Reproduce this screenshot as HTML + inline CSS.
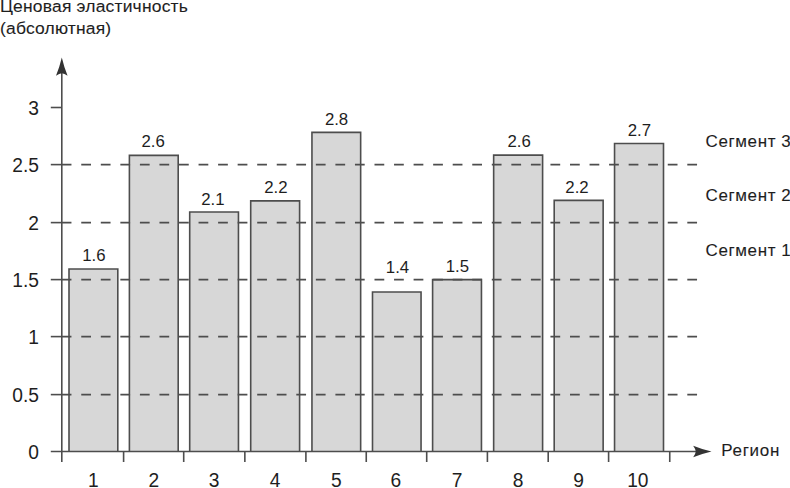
<!DOCTYPE html>
<html><head><meta charset="utf-8"><style>
html,body{margin:0;padding:0;background:#fff;width:790px;height:488px;overflow:hidden}
svg{display:block}
text{font-family:"Liberation Sans",sans-serif;fill:#1e1e1e}
</style></head><body>
<svg width="790" height="488" viewBox="0 0 790 488">
<path d="M69 451.5 V269 H117.8 V451.5" fill="#d7d7d7" stroke="#4d4d4d" stroke-width="1.6"/>
<path d="M129.4 451.5 V155.4 H178.2 V451.5" fill="#d7d7d7" stroke="#4d4d4d" stroke-width="1.6"/>
<path d="M189.7 451.5 V212 H238.45 V451.5" fill="#d7d7d7" stroke="#4d4d4d" stroke-width="1.6"/>
<path d="M250.7 451.5 V200.9 H299.6 V451.5" fill="#d7d7d7" stroke="#4d4d4d" stroke-width="1.6"/>
<path d="M311.95 451.5 V132.4 H360.65 V451.5" fill="#d7d7d7" stroke="#4d4d4d" stroke-width="1.6"/>
<path d="M372.5 451.5 V292 H421.05 V451.5" fill="#d7d7d7" stroke="#4d4d4d" stroke-width="1.6"/>
<path d="M432.6 451.5 V279.65 H481.45 V451.5" fill="#d7d7d7" stroke="#4d4d4d" stroke-width="1.6"/>
<path d="M493.65 451.5 V155.1 H542.6 V451.5" fill="#d7d7d7" stroke="#4d4d4d" stroke-width="1.6"/>
<path d="M554.2 451.5 V200.4 H603.15 V451.5" fill="#d7d7d7" stroke="#4d4d4d" stroke-width="1.6"/>
<path d="M614.55 451.5 V143.5 H663.5 V451.5" fill="#d7d7d7" stroke="#4d4d4d" stroke-width="1.6"/>
<line x1="61.7" y1="164.6" x2="697.3" y2="164.6" stroke="#4d4d4d" stroke-width="1.8" stroke-dasharray="9.75 9.8"/>
<line x1="61.7" y1="222.6" x2="697.3" y2="222.6" stroke="#4d4d4d" stroke-width="1.8" stroke-dasharray="9.75 9.8"/>
<line x1="61.7" y1="279.6" x2="697.3" y2="279.6" stroke="#4d4d4d" stroke-width="1.8" stroke-dasharray="9.75 9.8"/>
<line x1="61.7" y1="336.6" x2="697.3" y2="336.6" stroke="#4d4d4d" stroke-width="1.8" stroke-dasharray="9.75 9.8"/>
<line x1="61.7" y1="394.6" x2="697.3" y2="394.6" stroke="#4d4d4d" stroke-width="1.8" stroke-dasharray="9.75 9.8"/>
<line x1="50.8" y1="107.5" x2="61.8" y2="107.5" stroke="#4d4d4d" stroke-width="1.6"/>
<line x1="50.8" y1="164.6" x2="61.8" y2="164.6" stroke="#4d4d4d" stroke-width="1.6"/>
<line x1="50.8" y1="222.6" x2="61.8" y2="222.6" stroke="#4d4d4d" stroke-width="1.6"/>
<line x1="50.8" y1="279.6" x2="61.8" y2="279.6" stroke="#4d4d4d" stroke-width="1.6"/>
<line x1="50.8" y1="336.6" x2="61.8" y2="336.6" stroke="#4d4d4d" stroke-width="1.6"/>
<line x1="50.8" y1="394.6" x2="61.8" y2="394.6" stroke="#4d4d4d" stroke-width="1.6"/>
<line x1="123.60" y1="451.5" x2="123.60" y2="462" stroke="#4d4d4d" stroke-width="1.6"/>
<line x1="183.70" y1="451.5" x2="183.70" y2="462" stroke="#4d4d4d" stroke-width="1.6"/>
<line x1="244.85" y1="451.5" x2="244.85" y2="462" stroke="#4d4d4d" stroke-width="1.6"/>
<line x1="305.90" y1="451.5" x2="305.90" y2="462" stroke="#4d4d4d" stroke-width="1.6"/>
<line x1="366.25" y1="451.5" x2="366.25" y2="462" stroke="#4d4d4d" stroke-width="1.6"/>
<line x1="426.70" y1="451.5" x2="426.70" y2="462" stroke="#4d4d4d" stroke-width="1.6"/>
<line x1="487.40" y1="451.5" x2="487.40" y2="462" stroke="#4d4d4d" stroke-width="1.6"/>
<line x1="548.20" y1="451.5" x2="548.20" y2="462" stroke="#4d4d4d" stroke-width="1.6"/>
<line x1="608.60" y1="451.5" x2="608.60" y2="462" stroke="#4d4d4d" stroke-width="1.6"/>
<line x1="669.75" y1="451.5" x2="669.75" y2="462" stroke="#4d4d4d" stroke-width="1.6"/>
<line x1="61.8" y1="462" x2="61.8" y2="70" stroke="#4d4d4d" stroke-width="1.6"/>
<line x1="50.8" y1="451.5" x2="700" y2="451.5" stroke="#4d4d4d" stroke-width="1.6"/>
<path d="M61.8 57.5 Q64.0 67 67.6 75.8 Q64.3 73.5 61.8 73.2 Q59.3 73.5 56.0 75.8 Q59.599999999999994 67 61.8 57.5 Z" fill="#333"/>
<path d="M711.5 451.5 Q702 449.3 693.2 445.7 Q695.5 449.0 695.8 451.5 Q695.5 454.0 693.2 457.3 Q702 453.7 711.5 451.5 Z" fill="#333"/>
<text x="93.90" y="261.2" font-size="16.8" text-anchor="middle">1.6</text>
<text x="153.20" y="147.25" font-size="16.8" text-anchor="middle">2.6</text>
<text x="212.88" y="204.75" font-size="16.8" text-anchor="middle">2.1</text>
<text x="275.85" y="192.9" font-size="16.8" text-anchor="middle">2.2</text>
<text x="336.55" y="125" font-size="16.8" text-anchor="middle">2.8</text>
<text x="397.47" y="272.7" font-size="16.8" text-anchor="middle">1.4</text>
<text x="457.42" y="272.4" font-size="16.8" text-anchor="middle">1.5</text>
<text x="519.12" y="147" font-size="16.8" text-anchor="middle">2.6</text>
<text x="576.97" y="193.1" font-size="16.8" text-anchor="middle">2.2</text>
<text x="639.42" y="135.9" font-size="16.8" text-anchor="middle">2.7</text>
<text transform="translate(93.40,487.0) scale(1,1.03)" font-size="19.2" text-anchor="middle">1</text>
<text transform="translate(153.80,487.0) scale(1,1.03)" font-size="19.2" text-anchor="middle">2</text>
<text transform="translate(214.07,487.0) scale(1,1.03)" font-size="19.2" text-anchor="middle">3</text>
<text transform="translate(275.15,487.0) scale(1,1.03)" font-size="19.2" text-anchor="middle">4</text>
<text transform="translate(336.30,487.0) scale(1,1.03)" font-size="19.2" text-anchor="middle">5</text>
<text transform="translate(395.77,487.0) scale(1,1.03)" font-size="19.2" text-anchor="middle">6</text>
<text transform="translate(457.02,487.0) scale(1,1.03)" font-size="19.2" text-anchor="middle">7</text>
<text transform="translate(518.12,487.0) scale(1,1.03)" font-size="19.2" text-anchor="middle">8</text>
<text transform="translate(578.67,487.0) scale(1,1.03)" font-size="19.2" text-anchor="middle">9</text>
<text transform="translate(637.82,487.0) scale(1,1.03)" font-size="19.2" text-anchor="middle">10</text>
<text transform="translate(39,114.70) scale(1,1.07)" font-size="19.2" text-anchor="end">3</text>
<text transform="translate(39,171.80) scale(1,1.07)" font-size="19.2" text-anchor="end">2.5</text>
<text transform="translate(39,229.80) scale(1,1.07)" font-size="19.2" text-anchor="end">2</text>
<text transform="translate(39,286.80) scale(1,1.07)" font-size="19.2" text-anchor="end">1.5</text>
<text transform="translate(39,343.80) scale(1,1.07)" font-size="19.2" text-anchor="end">1</text>
<text transform="translate(39,401.80) scale(1,1.07)" font-size="19.2" text-anchor="end">0.5</text>
<text transform="translate(39,459.40) scale(1,1.07)" font-size="19.2" text-anchor="end">0</text>
<text transform="translate(0,11.9) scale(1,0.93)" font-size="17.5" text-anchor="start" letter-spacing="0.18" stroke="#1e1e1e" stroke-width="0.1">Ценовая эластичность</text>
<text transform="translate(0,33.5) scale(1,0.93)" font-size="17.5" text-anchor="start" letter-spacing="0.18" stroke="#1e1e1e" stroke-width="0.1">(абсолютная)</text>
<text x="705.6" y="146.8" font-size="17" text-anchor="start" letter-spacing="0.6" stroke="#1e1e1e" stroke-width="0.1">Сегмент 3</text>
<text x="705.6" y="201.3" font-size="17" text-anchor="start" letter-spacing="0.6" stroke="#1e1e1e" stroke-width="0.1">Сегмент 2</text>
<text x="705.6" y="256.0" font-size="17" text-anchor="start" letter-spacing="0.6" stroke="#1e1e1e" stroke-width="0.1">Сегмент 1</text>
<text x="721.2" y="455.5" font-size="17" text-anchor="start" letter-spacing="0.7" stroke="#1e1e1e" stroke-width="0.1">Регион</text>
</svg>
</body></html>
